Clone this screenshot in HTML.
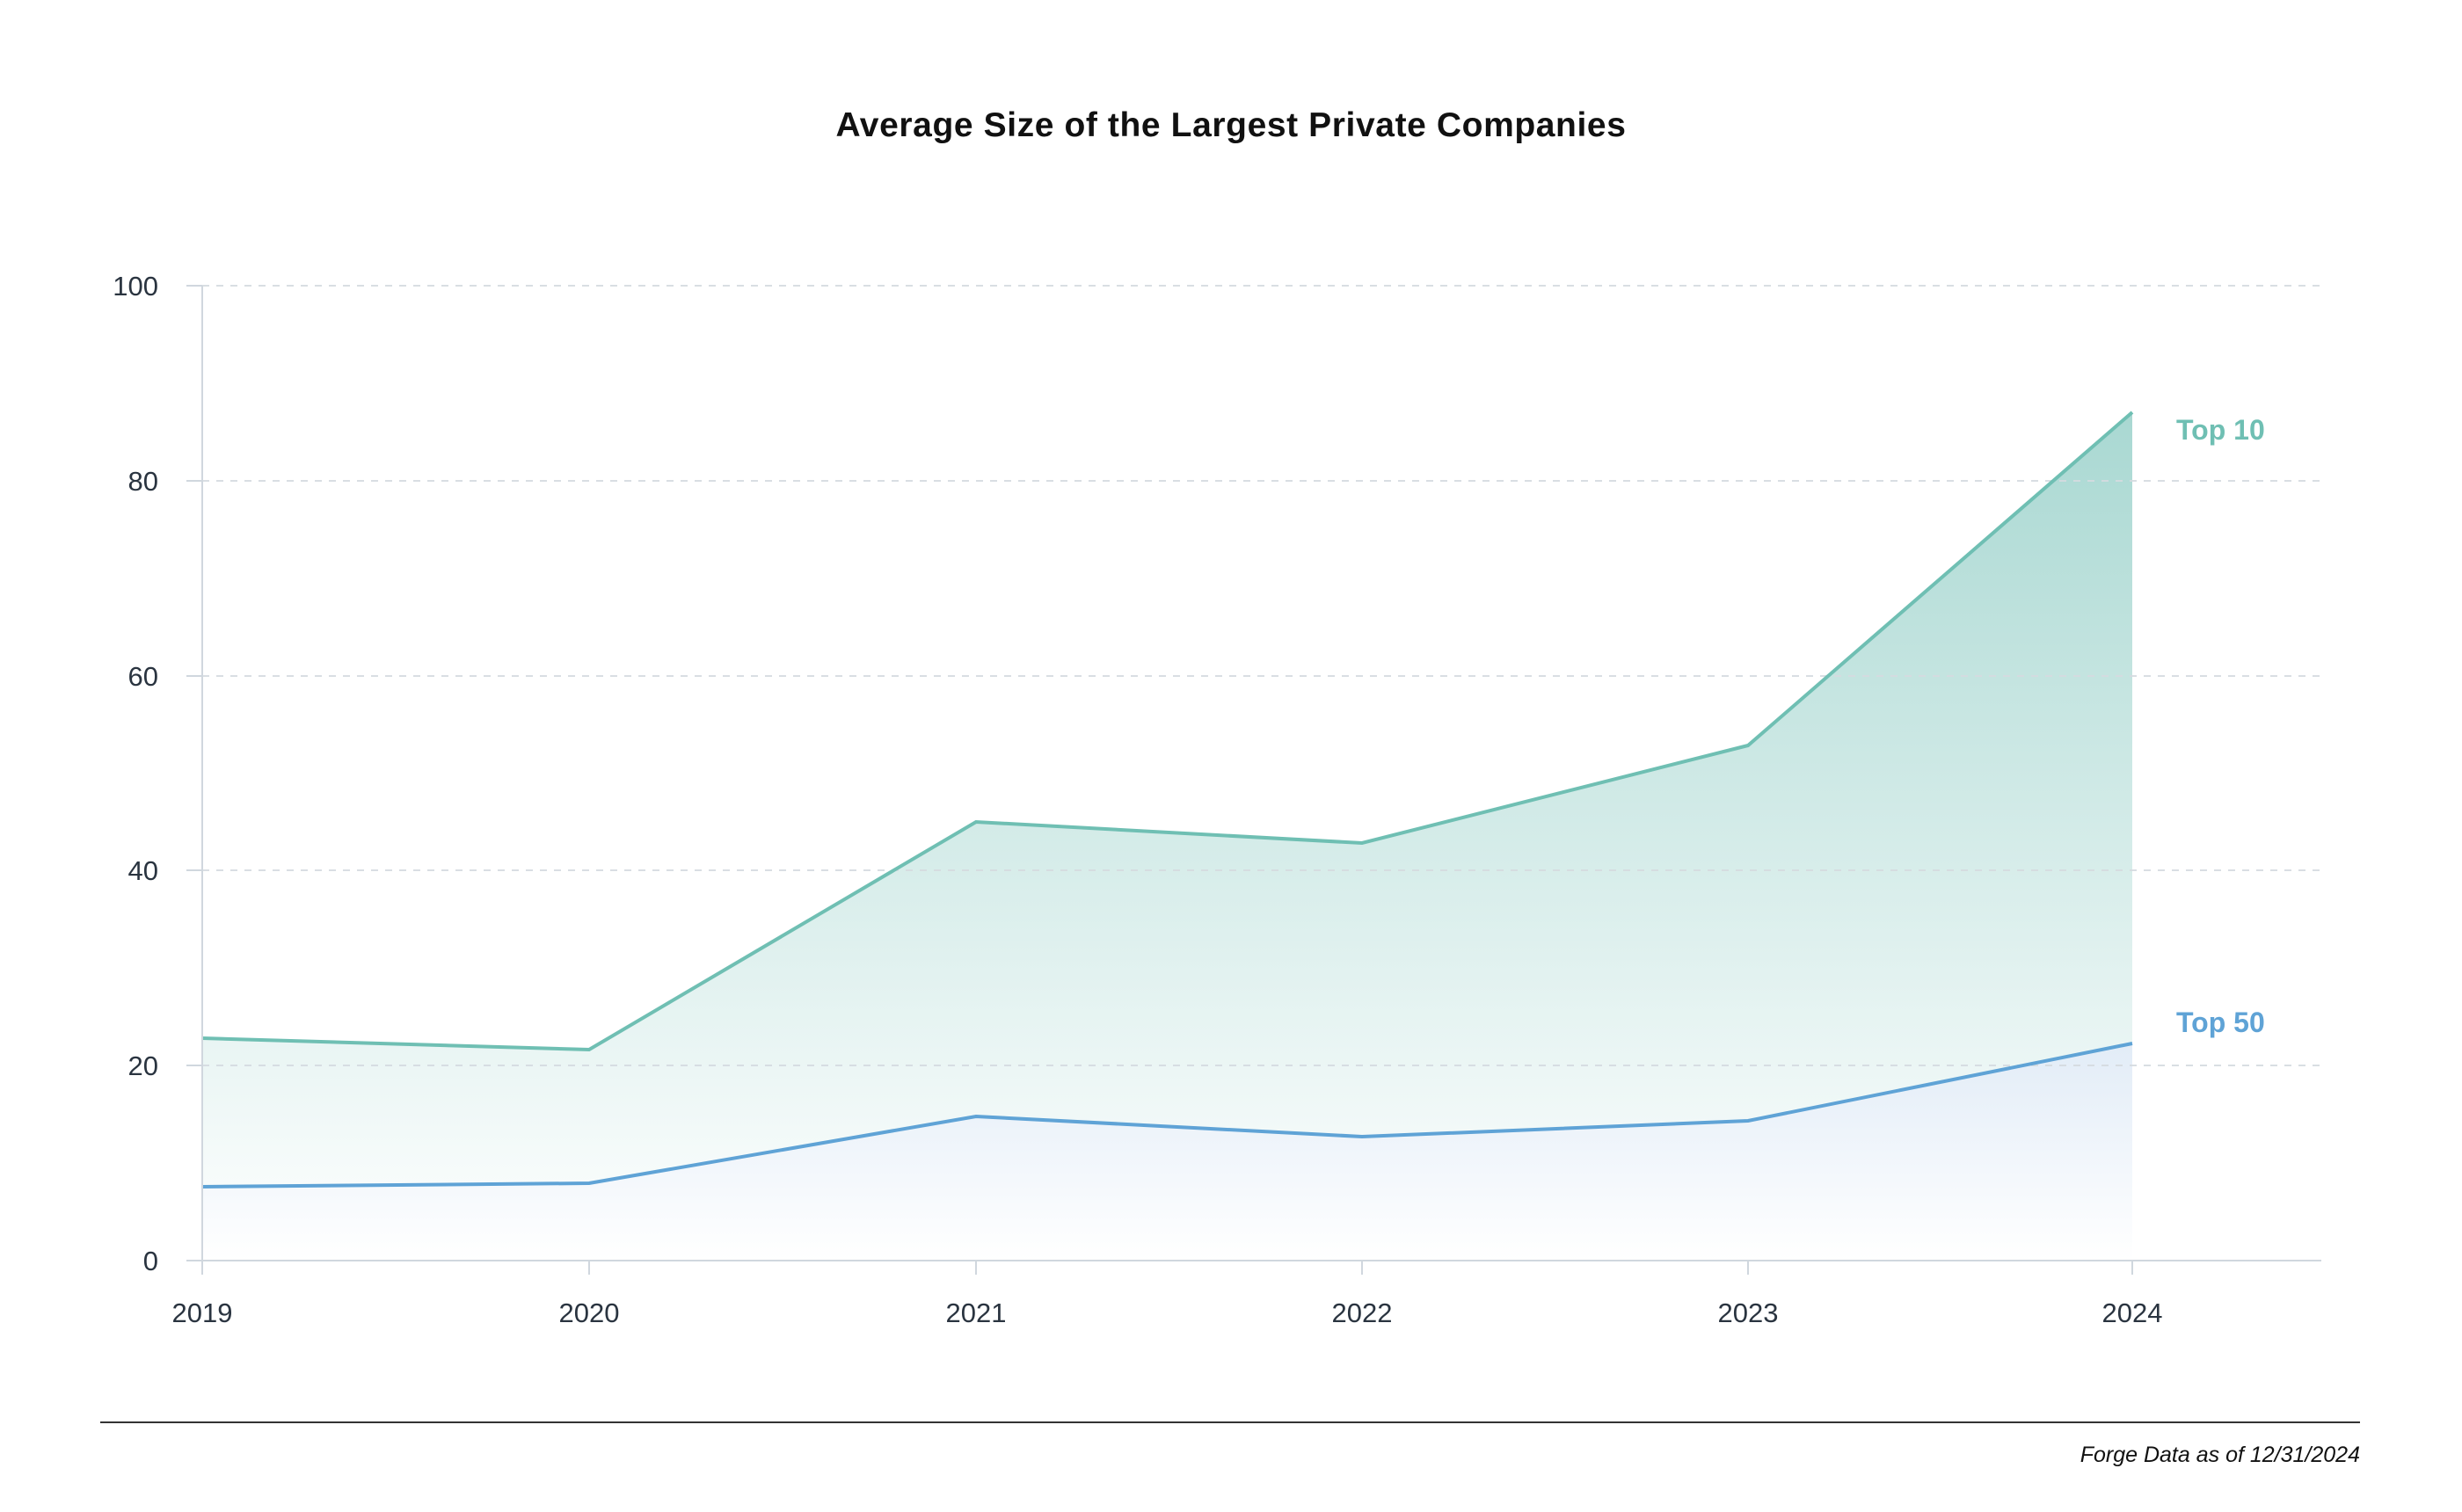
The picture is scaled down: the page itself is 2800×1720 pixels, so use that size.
<!DOCTYPE html>
<html><head><meta charset="utf-8"><style>
html,body{margin:0;padding:0;background:#fff;}
svg{display:block;font-family:"Liberation Sans",sans-serif;}
</style></head><body>
<svg width="2800" height="1720" viewBox="0 0 2800 1720">
<defs>
<linearGradient id="g1" x1="0" y1="469" x2="0" y2="1434" gradientUnits="userSpaceOnUse">
<stop offset="0" stop-color="#a9d8d2"/><stop offset="1" stop-color="#ffffff"/></linearGradient>
<linearGradient id="g2" x1="0" y1="1187" x2="0" y2="1434" gradientUnits="userSpaceOnUse">
<stop offset="0" stop-color="#e2ecf7"/><stop offset="1" stop-color="#ffffff"/></linearGradient>
</defs>
<text x="1400" y="155" text-anchor="middle" font-size="39" font-weight="bold" fill="#111" letter-spacing="0.6">Average Size of the Largest Private Companies</text>
<polygon points="230,1181 670,1194 1110,935 1549,959 1988,848 2425,469 2425,1434 230,1434" fill="url(#g1)"/>
<polygon points="230,1350 670,1346 1110,1270 1549,1293 1988,1275 2425,1187 2425,1434 230,1434" fill="url(#g2)"/>
<g stroke="#d5dbe0" stroke-width="2" stroke-dasharray="8,8" opacity="0.9">
<line x1="230" y1="325" x2="2640" y2="325"/>
<line x1="230" y1="547" x2="2640" y2="547"/>
<line x1="230" y1="769" x2="2640" y2="769"/>
<line x1="230" y1="990" x2="2640" y2="990"/>
<line x1="230" y1="1212" x2="2640" y2="1212"/>
</g>
<polyline points="230,1181 670,1194 1110,935 1549,959 1988,848 2425,469" fill="none" stroke="#6fbfb3" stroke-width="4"/>
<polyline points="230,1350 670,1346 1110,1270 1549,1293 1988,1275 2425,1187" fill="none" stroke="#5fa3d6" stroke-width="4"/>
<g stroke="#d0d7de" stroke-width="2">
<line x1="230" y1="325" x2="230" y2="1434"/>
<line x1="230" y1="1434" x2="2640" y2="1434"/>
<line x1="212" y1="325" x2="230" y2="325"/><line x1="212" y1="547" x2="230" y2="547"/>
<line x1="212" y1="769" x2="230" y2="769"/><line x1="212" y1="990" x2="230" y2="990"/>
<line x1="212" y1="1212" x2="230" y2="1212"/><line x1="212" y1="1434" x2="230" y2="1434"/>
<line x1="230" y1="1434" x2="230" y2="1450"/><line x1="670" y1="1434" x2="670" y2="1450"/>
<line x1="1110" y1="1434" x2="1110" y2="1450"/><line x1="1549" y1="1434" x2="1549" y2="1450"/>
<line x1="1988" y1="1434" x2="1988" y2="1450"/><line x1="2425" y1="1434" x2="2425" y2="1450"/>
</g>
<g font-size="31" fill="#2a3440" text-anchor="end">
<text x="180" y="336">100</text><text x="180" y="558">80</text><text x="180" y="780">60</text>
<text x="180" y="1001">40</text><text x="180" y="1223">20</text><text x="180" y="1445">0</text>
</g>
<g font-size="31" fill="#2a3440" text-anchor="middle">
<text x="230" y="1504">2019</text><text x="670" y="1504">2020</text><text x="1110" y="1504">2021</text>
<text x="1549" y="1504">2022</text><text x="1988" y="1504">2023</text><text x="2425" y="1504">2024</text>
</g>
<text x="2475" y="500" font-size="32" font-weight="bold" fill="#6fbfb3">Top 10</text>
<text x="2475" y="1174" font-size="32" font-weight="bold" fill="#5fa3d6">Top 50</text>
<line x1="114" y1="1618" x2="2684" y2="1618" stroke="#333" stroke-width="2"/>
<text x="2684" y="1663" text-anchor="end" font-size="25" font-style="italic" fill="#111">Forge Data as of 12/31/2024</text>
</svg>
</body></html>
